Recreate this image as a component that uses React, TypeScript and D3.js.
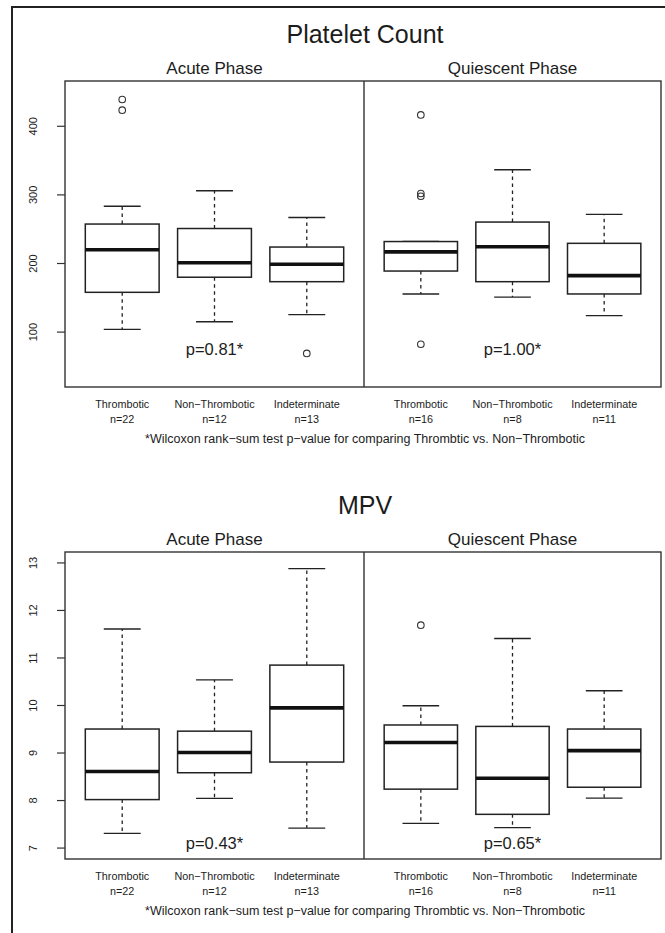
import React from "react";
import * as d3 from "d3";

const groups = ["Thrombotic", "Non\u2212Thrombotic", "Indeterminate"];
const phases = ["Acute Phase", "Quiescent Phase"];
const acuteN = [22, 12, 13];
const quiescentN = [16, 8, 11];

// each box: [lower whisker, Q1, median, Q3, upper whisker]
const plateletAcute = [
  [104, 158, 220, 257.5, 283.5],
  [115, 180, 201, 251, 306],
  [125.5, 173.5, 199, 224, 267],
];
const plateletAcuteOut = [[423.5, 439], [], [69]];
const plateletQuiescent = [
  [155.6, 189, 217, 232, 232],
  [151, 173.5, 224.5, 260.4, 336.6],
  [124, 155.6, 182.3, 229.4, 271.6],
];
const plateletQuiescentOut = [[416.5, 302, 298, 82.3], [], []];
const plateletTicks = [100, 200, 300, 400];
const plateletP = ["p=0.81*", "p=1.00*"];

const mpvAcute = [
  [7.31, 8.02, 8.61, 9.505, 11.61],
  [8.045, 8.585, 9.01, 9.46, 10.54],
  [7.42, 8.81, 9.95, 10.85, 12.88],
];
const mpvAcuteOut = [[], [], []];
const mpvQuiescent = [
  [7.52, 8.24, 9.22, 9.59, 9.995],
  [7.43, 7.71, 8.47, 9.56, 11.41],
  [8.05, 8.28, 9.05, 9.505, 10.31],
];
const mpvQuiescentOut = [[11.69], [], []];
const mpvTicks = [7, 8, 9, 10, 11, 12, 13];
const mpvP = ["p=0.43*", "p=0.65*"];

const note = "*Wilcoxon rank\u2212sum test p\u2212value for comparing Thrombtic vs. Non\u2212Thrombotic";

const FONT = "'Liberation Sans', Arial, Helvetica, sans-serif";
const INK = "#1c1c1c";
const LEFT = 65, MID = 364, RIGHT = 661;

function Panel({ title, top, bottom, domain, ticks, stats, outs, pText, pAt }) {
  const y = d3.scaleLinear().domain(domain).range([bottom, top]);
  const xs = [
    d3.scaleLinear().domain([0.38, 3.62]).range([LEFT, MID]),
    d3.scaleLinear().domain([0.38, 3.62]).range([MID, RIGHT]),
  ];
  const ns = [acuteN, quiescentN];
  return (
    <g>
      <text x={365} y={top - 38} textAnchor="middle" fontSize={25} fill={INK} fontFamily={FONT}>{title}</text>
      {phases.map((ph, p) => (
        <text key={ph} x={(xs[p].range()[0] + xs[p].range()[1]) / 2} y={top - 7} textAnchor="middle" fontSize={17} fill={INK} fontFamily={FONT}>{ph}</text>
      ))}
      <rect x={LEFT} y={top} width={RIGHT - LEFT} height={bottom - top} fill="none" stroke="#333" strokeWidth={1.4} />
      <line x1={MID} x2={MID} y1={top} y2={bottom} stroke="#333" strokeWidth={1.4} />
      {ticks.map((t) => (
        <g key={t}>
          <line x1={LEFT - 8} x2={LEFT} y1={y(t)} y2={y(t)} stroke="#333" strokeWidth={1.2} />
          <text transform={`translate(${33},${y(t)}) rotate(-90)`} textAnchor="middle" dominantBaseline="central" fontSize={11} fill={INK} fontFamily={FONT}>{t}</text>
        </g>
      ))}
      {stats.map((phaseStats, p) => {
        const x = xs[p];
        const hw = x(1.4) - x(1);
        return (
          <g key={p}>
            {phaseStats.map((s, i) => {
              const cx = x(i + 1);
              return (
                <g key={i}>
                  <line x1={cx} x2={cx} y1={y(s[3])} y2={y(s[4])} stroke="#222" strokeWidth={1.3} strokeDasharray="3.5,3.5" />
                  <line x1={cx} x2={cx} y1={y(s[1])} y2={y(s[0])} stroke="#222" strokeWidth={1.3} strokeDasharray="3.5,3.5" />
                  <line x1={cx - hw / 2} x2={cx + hw / 2} y1={y(s[4])} y2={y(s[4])} stroke="#222" strokeWidth={1.4} />
                  <line x1={cx - hw / 2} x2={cx + hw / 2} y1={y(s[0])} y2={y(s[0])} stroke="#222" strokeWidth={1.4} />
                  <rect x={cx - hw} y={y(s[3])} width={hw * 2} height={y(s[1]) - y(s[3])} fill="white" stroke="#222" strokeWidth={1.5} />
                  <line x1={cx - hw} x2={cx + hw} y1={y(s[2])} y2={y(s[2])} stroke="#111" strokeWidth={3.6} />
                  {outs[p][i].map((o, k) => (
                    <circle key={k} cx={cx} cy={y(o)} r={3.3} fill="none" stroke="#333" strokeWidth={1.1} />
                  ))}
                  <text x={cx} y={bottom + 21} textAnchor="middle" fontSize={10.8} fill={INK} fontFamily={FONT}>{groups[i]}</text>
                  <text x={cx} y={bottom + 36} textAnchor="middle" fontSize={10.8} fill={INK} fontFamily={FONT}>n={ns[p][i]}</text>
                </g>
              );
            })}
            <text x={x(2)} y={y(pAt)} textAnchor="middle" dominantBaseline="central" fontSize={16.5} fill={INK} fontFamily={FONT}>{pText[p]}</text>
          </g>
        );
      })}
      <text x={365} y={bottom + 56} textAnchor="middle" fontSize={12.5} fill={INK} fontFamily={FONT}>{note}</text>
    </g>
  );
}

export default function App() {
  return (
    <svg width={665} height={933} style={{ position: "absolute", left: 0, top: 0, background: "white" }}>
      <rect x={0} y={0} width={665} height={933} fill="white" />
      <rect x={12} y={7} width={700} height={1000} fill="none" stroke="#222" strokeWidth={2} />
      <Panel title="Platelet Count" top={81} bottom={387} domain={[20, 466]} ticks={plateletTicks}
        stats={[plateletAcute, plateletQuiescent]} outs={[plateletAcuteOut, plateletQuiescentOut]} pText={plateletP} pAt={76} />
      <Panel title="MPV" top={552} bottom={859} domain={[6.77, 13.23]} ticks={mpvTicks}
        stats={[mpvAcute, mpvQuiescent]} outs={[mpvAcuteOut, mpvQuiescentOut]} pText={mpvP} pAt={7.1} />
    </svg>
  );
}
